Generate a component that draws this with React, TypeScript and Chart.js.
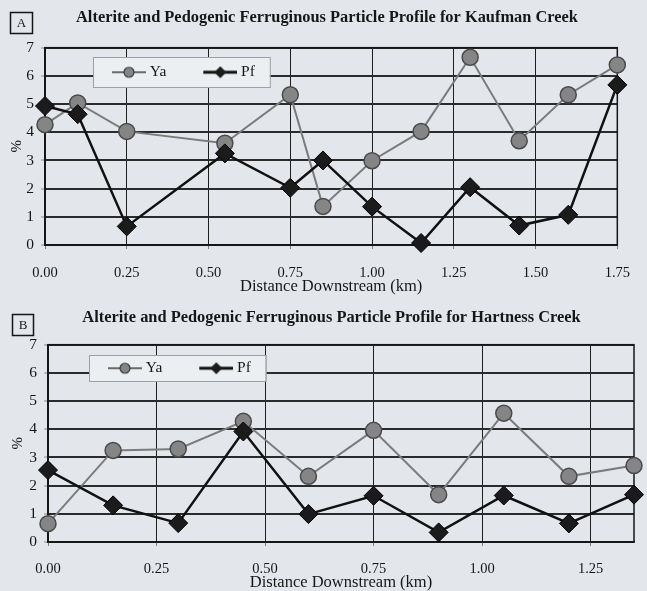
import React, { useEffect, useRef } from 'react';
import { Chart, registerables } from 'chart.js';

Chart.register(...registerables);

// ---------- data ----------
const seriesNames = ['Ya', 'Pf'];
const yTitle = '%';
const xTitle = 'Distance Downstream (km)';

const titleA = 'Alterite and Pedogenic Ferruginous Particle Profile for Kaufman Creek';
const distA = [0, 0.1, 0.25, 0.55, 0.75, 0.85, 1.0, 1.15, 1.3, 1.45, 1.6, 1.75];
const yaA = [4.27, 5.04, 4.03, 3.61, 5.33, 1.37, 2.99, 4.03, 6.66, 3.7, 5.33, 6.39];
const pfA = [4.93, 4.64, 0.66, 3.25, 2.03, 3.0, 1.36, 0.07, 2.05, 0.69, 1.07, 5.68];
const xTicksA = [0, 0.25, 0.5, 0.75, 1.0, 1.25, 1.5, 1.75];
const xLabelsA = ['0.00', '0.25', '0.50', '0.75', '1.00', '1.25', '1.50', '1.75'];

const titleB = 'Alterite and Pedogenic Ferruginous Particle Profile for Hartness Creek';
const distB = [0, 0.15, 0.3, 0.45, 0.6, 0.75, 0.9, 1.05, 1.2, 1.35];
const yaB = [0.65, 3.25, 3.3, 4.28, 2.33, 3.96, 1.68, 4.57, 2.33, 2.71];
const pfB = [2.55, 1.3, 0.67, 3.92, 0.99, 1.64, 0.34, 1.65, 0.66, 1.68];
const xTicksB = [0, 0.25, 0.5, 0.75, 1.0, 1.25];
const xLabelsB = ['0.00', '0.25', '0.50', '0.75', '1.00', '1.25'];

const yTicks = [0, 1, 2, 3, 4, 5, 6, 7];
const yLabels = ['0', '1', '2', '3', '4', '5', '6', '7'];

// ---------- styles ----------
const FONT = '"Liberation Serif", "Times New Roman", serif';
const PAPER = '#e3e7eb';
const INK = '#161616';
const YA_LINE = '#7b7b7b';
const YA_FILL = '#858585';
const YA_EDGE = '#4a4a4a';
const PF_LINE = '#111111';
const PF_FILL = '#1b1b1b';

type Panel = {
  letter: string;
  title: string;
  dist: number[];
  ya: number[];
  pf: number[];
  xMax: number;
  xTicks: number[];
  xLabels: string[];
  height: number;
  padLeft: number;
  padRight: number;
  yWidth: number;
  yTitlePad: number;
  titlePad: { top: number; bottom: number };
  xTickPad: number;
  xTitlePad: { top: number; bottom: number };
  legendX: number;
  legendCY: number;
  legendHalfH: number;
  box: { x: number; y: number; w: number; h: number };
};

const panels: Panel[] = [
  {
    letter: 'A', title: titleA, dist: distA, ya: yaA, pf: pfA, xMax: 1.75,
    xTicks: xTicksA, xLabels: xLabelsA, height: 298,
    padLeft: 23, padRight: 16, yWidth: 22, yTitlePad: -13.5,
    titlePad: { top: 8, bottom: 5 }, xTickPad: 17, xTitlePad: { top: -19.5, bottom: 3.5 },
    legendX: 75, legendCY: 72, legendHalfH: 15,
    box: { x: 10.5, y: 12.5, w: 22, h: 21 },
  },
  {
    letter: 'B', title: titleB, dist: distB, ya: yaB, pf: pfB, xMax: 1.35,
    xTicks: xTicksB, xLabels: xLabelsB, height: 293,
    padLeft: 29, padRight: 13, yWidth: 19, yTitlePad: -18,
    titlePad: { top: 10, bottom: 2 }, xTickPad: 16, xTitlePad: { top: -18.5, bottom: 0.5 },
    legendX: 71, legendCY: 70, legendHalfH: 13,
    box: { x: 12.5, y: 16.5, w: 21, h: 21 },
  },
];

const BOXW = 67; // legend point-style box width

function makeIcon(kind: 'circle' | 'diamond'): HTMLCanvasElement {
  const W = BOXW + 8;
  const c = document.createElement('canvas');
  c.width = W;
  c.height = 14;
  const ctx = c.getContext('2d')!;
  const x0 = BOXW - 30 + 4;
  const cx = (x0 + W) / 2;
  ctx.lineWidth = kind === 'circle' ? 2.2 : 2.8;
  ctx.strokeStyle = kind === 'circle' ? '#6a6a6a' : PF_LINE;
  ctx.beginPath();
  ctx.moveTo(x0, 7);
  ctx.lineTo(W, 7);
  ctx.stroke();
  ctx.beginPath();
  if (kind === 'circle') {
    ctx.arc(cx, 7, 5, 0, Math.PI * 2);
    ctx.fillStyle = YA_FILL;
    ctx.fill();
    ctx.lineWidth = 1.2;
    ctx.strokeStyle = '#3a3a3a';
    ctx.stroke();
  } else {
    ctx.moveTo(cx - 6, 7);
    ctx.lineTo(cx, 1);
    ctx.lineTo(cx + 6, 7);
    ctx.lineTo(cx, 13);
    ctx.closePath();
    ctx.fillStyle = PF_FILL;
    ctx.fill();
  }
  return c;
}

function buildChart(canvas: HTMLCanvasElement, p: Panel): Chart {
  const icons = [makeIcon('circle'), makeIcon('diamond')];

  const decor = {
    id: 'decor',
    afterLayout(chart: any) {
      const lg = chart.legend;
      if (!lg) return;
      const dx = p.legendX - lg.left;
      const dy = p.legendCY - 7.5 - lg.top;
      lg.left += dx;
      lg.right += dx;
      lg.top += dy;
      lg.bottom += dy + 10;
    },
    beforeDatasetsDraw(chart: any) {
      const { ctx, chartArea: a } = chart;
      ctx.save();
      ctx.strokeStyle = INK;
      ctx.lineWidth = 1.5;
      ctx.strokeRect(a.left, a.top, a.right - a.left, a.bottom - a.top);
      const hb = chart.legend.legendHitBoxes;
      if (hb && hb.length) {
        const l = hb[0].left + 18;
        const r = hb[hb.length - 1].left + hb[hb.length - 1].width + 15;
        const t = p.legendCY - p.legendHalfH;
        const b = p.legendCY + p.legendHalfH;
        ctx.fillStyle = '#eceff1';
        ctx.fillRect(l, t, r - l, b - t);
        ctx.strokeStyle = '#a0a0a0';
        ctx.lineWidth = 1;
        ctx.strokeRect(l + 0.5, t + 0.5, r - l, b - t);
      }
      ctx.restore();
      chart.legend.draw();
    },
    afterDraw(chart: any) {
      const { ctx } = chart;
      const bx = p.box;
      ctx.save();
      ctx.strokeStyle = INK;
      ctx.lineWidth = 1.5;
      ctx.strokeRect(bx.x, bx.y, bx.w, bx.h);
      ctx.fillStyle = INK;
      ctx.font = `13px ${FONT}`;
      ctx.textAlign = 'center';
      ctx.textBaseline = 'middle';
      ctx.fillText(p.letter, bx.x + bx.w / 2, bx.y + bx.h / 2 + 1);
      ctx.restore();
    },
  };

  const cfg: any = {
    type: 'line',
    data: {
      datasets: [
        {
          label: seriesNames[0],
          data: p.dist.map((x, i) => ({ x, y: p.ya[i] })),
          borderColor: YA_LINE,
          borderWidth: 2,
          pointStyle: 'circle',
          pointRadius: 8,
          pointBackgroundColor: YA_FILL,
          pointBorderColor: YA_EDGE,
          pointBorderWidth: 1.5,
          tension: 0,
          clip: false,
          order: 2,
        },
        {
          label: seriesNames[1],
          data: p.dist.map((x, i) => ({ x, y: p.pf[i] })),
          borderColor: PF_LINE,
          borderWidth: 2.5,
          pointStyle: 'rectRot',
          pointRadius: 9.5,
          pointBackgroundColor: PF_FILL,
          pointBorderColor: '#000',
          pointBorderWidth: 1,
          tension: 0,
          clip: false,
          order: 1,
        },
      ],
    },
    options: {
      animation: false,
      responsive: false,
      devicePixelRatio: 1,
      events: [],
      layout: { padding: { left: p.padLeft, right: p.padRight, top: 0, bottom: 0 } },
      plugins: {
        tooltip: { enabled: false },
        title: {
          display: true,
          text: p.title,
          color: INK,
          font: { family: FONT, size: 16.4, weight: 'bold', lineHeight: 1.2 },
          padding: p.titlePad,
        },
        legend: {
          display: true,
          position: 'top',
          align: 'start',
          maxHeight: 15,
          labels: {
            usePointStyle: true,
            pointStyleWidth: BOXW,
            padding: 0,
            color: INK,
            font: { family: FONT, size: 15.5, lineHeight: 1 },
            generateLabels: (chart: any) => {
              const items = (Chart.defaults as any).plugins.legend.labels.generateLabels(chart);
              items.sort((a: any, b: any) => a.datasetIndex - b.datasetIndex);
              items.forEach((it: any) => {
                it.pointStyle = icons[it.datasetIndex];
                it.rotation = 0;
              });
              return items;
            },
          },
        },
      },
      scales: {
        x: {
          type: 'linear',
          min: 0,
          max: p.xMax,
          afterBuildTicks: (s: any) => {
            s.ticks = p.xTicks.map((v) => ({ value: v }));
          },
          ticks: {
            autoSkip: false,
            maxRotation: 0,
            padding: p.xTickPad,
            color: INK,
            font: { family: FONT, size: 14.5, lineHeight: 1 },
            callback: (_v: any, i: number) => p.xLabels[i],
          },
          grid: { color: '#1e1e1e', lineWidth: 1, tickLength: 4, tickColor: '#808080', tickWidth: 1 },
          border: { color: INK, width: 1.5 },
          title: {
            display: true,
            text: xTitle,
            color: INK,
            font: { family: FONT, size: 16.5, lineHeight: 1 },
            padding: p.xTitlePad,
          },
        },
        y: {
          min: 0,
          max: 7,
          afterBuildTicks: (s: any) => {
            s.ticks = yTicks.map((v) => ({ value: v }));
          },
          afterFit: (s: any) => {
            s.width = p.yWidth;
          },
          ticks: {
            padding: 7,
            color: INK,
            font: { family: FONT, size: 15.5, lineHeight: 1 },
            callback: (_v: any, i: number) => yLabels[i],
          },
          grid: { color: '#2b2b2b', lineWidth: 2, tickLength: 4, tickColor: '#8a8a8a', tickWidth: 1 },
          border: { color: INK, width: 1.5 },
          title: {
            display: true,
            text: yTitle,
            color: INK,
            font: { family: FONT, size: 15, lineHeight: 1 },
            padding: { top: p.yTitlePad, bottom: 0 },
          },
        },
      },
    },
    plugins: [decor],
  };

  return new Chart(canvas, cfg);
}

function PanelChart({ panel }: { panel: Panel }) {
  const ref = useRef<HTMLCanvasElement | null>(null);
  useEffect(() => {
    if (!ref.current) return;
    const ch = buildChart(ref.current, panel);
    return () => ch.destroy();
  }, [panel]);
  return (
    <canvas
      ref={ref}
      width={647}
      height={panel.height}
      style={{ display: 'block', width: 647, height: panel.height }}
    />
  );
}

export default function App() {
  return (
    <div
      style={{
        position: 'fixed',
        left: 0,
        top: 0,
        width: 647,
        height: 591,
        background: PAPER,
        overflow: 'hidden',
      }}
    >
      {panels.map((p) => (
        <PanelChart key={p.letter} panel={p} />
      ))}
    </div>
  );
}
